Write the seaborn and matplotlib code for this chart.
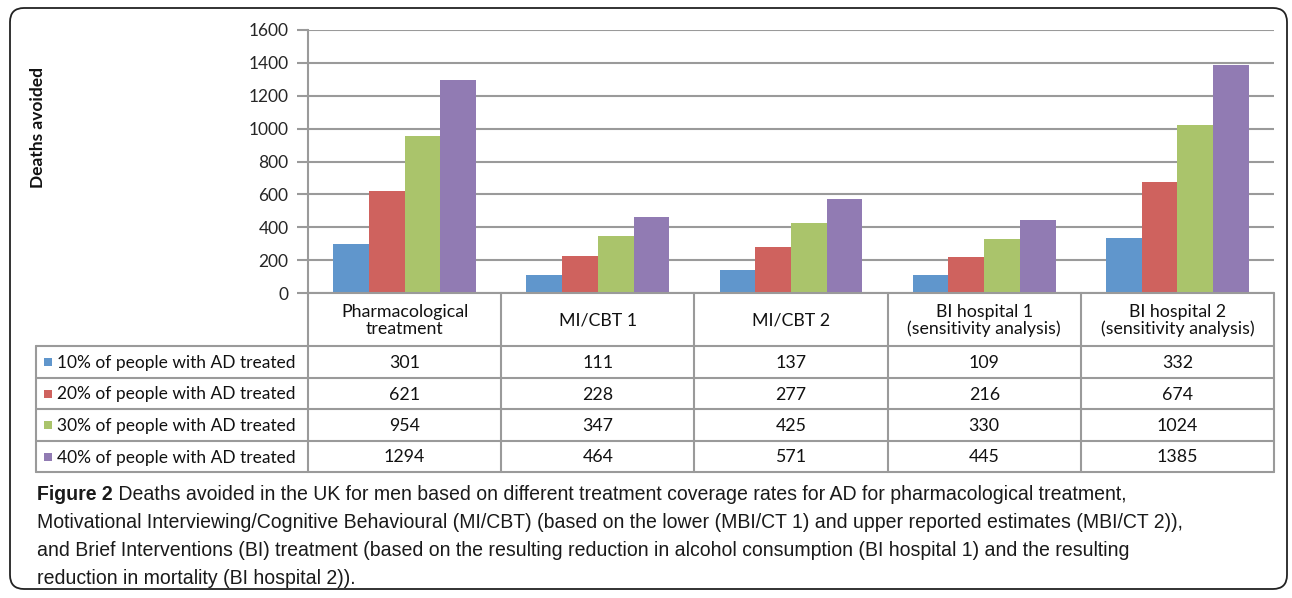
import pandas as pd
import numpy as np
import matplotlib
matplotlib.use("Agg")
import matplotlib.pyplot as plt
import seaborn as sns
from matplotlib.patches import FancyBboxPatch, Rectangle

# --- data ---
categorias = ["Pharmacological\ntreatment", "MI/CBT 1", "MI/CBT 2",
              "BI hospital 1\n(sensitivity analysis)", "BI hospital 2\n(sensitivity analysis)"]
series = ["10% of people with AD treated", "20% of people with AD treated",
          "30% of people with AD treated", "40% of people with AD treated"]
d10 = [301, 111, 137, 109, 332]
d20 = [621, 228, 277, 216, 674]
d30 = [954, 347, 425, 330, 1024]
d40 = [1294, 464, 571, 445, 1385]
yticks = [0, 200, 400, 600, 800, 1000, 1200, 1400, 1600]
colores = ["#6096CC", "#CF625E", "#AAC46B", "#917BB3"]
titulo_bold = "Figure 2"
titulo = [" Deaths avoided in the UK for men based on different treatment coverage rates for AD for pharmacological treatment,",
          "Motivational Interviewing/Cognitive Behavioural (MI/CBT) (based on the lower (MBI/CT 1) and upper reported estimates (MBI/CT 2)),",
          "and Brief Interventions (BI) treatment (based on the resulting reduction in alcohol consumption (BI hospital 1) and the resulting",
          "reduction in mortality (BI hospital 2))."]

valores = [d10, d20, d30, d40]
df = pd.DataFrame({
    "cat": np.tile(categorias, 4),
    "serie": np.repeat(series, 5),
    "valor": np.concatenate(valores),
})

sns.set_style("white")
plt.rcParams['font.family'] = ['Lato', 'DejaVu Sans']

W, H = 1292, 598
fig = plt.figure(figsize=(W / 100, H / 100), dpi=100)

# layout in pixels
x0, x1 = 308, 1274      # plot left/right
ytop, ybot = 30, 293    # plot top/bottom
tab_left = 36
row_y = [293, 346, 378, 409, 441, 472]
gris = "#9a9a9a"

ax = fig.add_axes([x0 / W, 1 - ybot / H, (x1 - x0) / W, (ybot - ytop) / H])
sns.barplot(data=df, x="cat", y="valor", hue="serie", palette=colores,
            width=0.74, gap=0, saturation=1, ax=ax, legend=False)
ax.set_ylim(0, 1600)
ax.set_xlim(-0.5, 4.5)
ax.set_yticks(yticks)
ax.set_yticklabels([str(t) for t in yticks], fontsize=12.5)
ax.set_xticks([])
ax.set_xlabel("")
ax.set_ylabel("")
ax.grid(axis="y", color=gris, lw=1.5)
ax.set_axisbelow(True)
for s in ["top", "right", "bottom"]:
    ax.spines[s].set_visible(False)
ax.spines["left"].set_color(gris)
ax.spines["left"].set_linewidth(1.5)
ax.tick_params(axis="y", length=8, width=1.5, color=gris, pad=6, left=True)
for b in ax.patches:
    b.set_edgecolor("none")

# overlay axes in pixel coordinates
ov = fig.add_axes([0, 0, 1, 1])
ov.set_xlim(0, W)
ov.set_ylim(H, 0)
ov.axis("off")
ov.patch.set_alpha(0)

ov.add_patch(FancyBboxPatch((10, 8), 1277, 581, boxstyle="round,pad=0,rounding_size=14",
                            fc="none", ec="#222222", lw=1.3))

ov.text(38, 128, "Deaths avoided", rotation=90, ha="center", va="center",
        fontsize=12.5, fontweight="bold", color="#111111")

# table
col_w = (x1 - x0) / len(categorias)
col_x = [x0 + i * col_w for i in range(len(categorias) + 1)]
lw_t = 1.5
for xv in col_x:
    ov.plot([xv, xv], [row_y[0], row_y[-1]], color=gris, lw=lw_t)
ov.plot([tab_left, tab_left], [row_y[1], row_y[-1]], color=gris, lw=lw_t)
ov.plot([x0, x1], [row_y[0], row_y[0]], color=gris, lw=lw_t)
for yv in row_y[1:]:
    ov.plot([tab_left, x1], [yv, yv], color=gris, lw=lw_t)

for i, c in enumerate(categorias):
    ov.text((col_x[i] + col_x[i + 1]) / 2, (row_y[0] + row_y[1]) / 2 + 1, c,
            ha="center", va="center", fontsize=12.8, color="#111111", linespacing=1.1)

for j, (nombre, vals) in enumerate(zip(series, valores)):
    yc = (row_y[j + 1] + row_y[j + 2]) / 2
    ov.add_patch(Rectangle((44, yc - 4), 8, 8, fc=colores[j], ec="none"))
    ov.text(57, yc + 1, nombre, ha="left", va="center", fontsize=12.5, color="#111111")
    for i, v in enumerate(vals):
        ov.text((col_x[i] + col_x[i + 1]) / 2, yc + 1, str(v), ha="center", va="center",
                fontsize=12.8, color="#111111")

# caption: fit longest line to reference width
cap_font = ['Liberation Sans', 'DejaVu Sans']
fig.canvas.draw()
r = fig.canvas.get_renderer()
prueba = ov.text(0, 0, titulo[1], fontsize=13, family=cap_font)
wt = prueba.get_window_extent(renderer=r).width
prueba.remove()
fs = 13 * (1178 - 37) / wt

line_y = [494, 522, 550, 578]
t0 = ov.text(37, line_y[0], titulo_bold, ha="left", va="center", fontsize=fs,
             fontweight="bold", family=cap_font, color="#1a1a1a")
xb = t0.get_window_extent(renderer=r).x1
for k, linea in enumerate(titulo):
    if k == 0:
        ov.text(xb / W, 1 - line_y[0] / H, linea, transform=fig.transFigure, ha="left",
                va="center", fontsize=fs, family=cap_font, color="#1a1a1a")
    else:
        ov.text(37, line_y[k], linea, ha="left", va="center", fontsize=fs,
                family=cap_font, color="#1a1a1a")

fig.savefig("out.png", dpi=100)
